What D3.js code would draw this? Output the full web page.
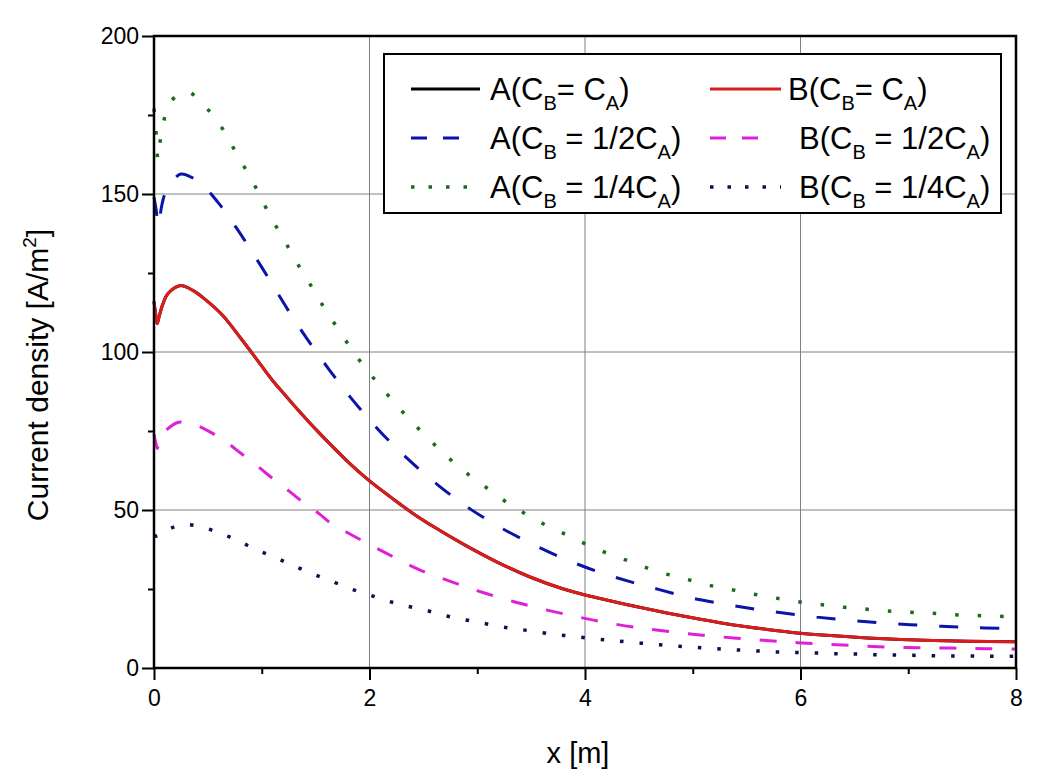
<!DOCTYPE html>
<html>
<head>
<meta charset="utf-8">
<script src="https://cdn.jsdelivr.net/npm/d3@7"></script>
<style>
  html, body { margin: 0; padding: 0; background: #fff; }
  svg { display: block; font-family: Arial, "Liberation Sans", sans-serif; }
</style>
</head>
<body>
<svg id="chart" width="1056" height="784"></svg>
<script>
// ---------------- data ----------------
const xTicks = [0, 2, 4, 6, 8];
const yTicks = [0, 50, 100, 150, 200];
const xMinorTicks = [1, 3, 5, 7];
const yMinorTicks = [25, 75, 125, 175];

// A (C_B = C_A)  -- black, hidden under the red curve in the reference
const aFullX = [0, 0.015, 0.03, 0.05, 0.08, 0.13, 0.24, 0.36, 0.48, 0.64, 0.8, 0.9, 1.0, 1.1, 1.2, 1.3, 1.4, 1.5, 1.63, 1.82, 2.0, 2.2, 2.4, 2.6, 2.87, 3.18, 3.49, 3.8, 4.0, 4.14, 4.45, 4.76, 5.07, 5.38, 5.69, 6.0, 6.31, 6.62, 6.93, 7.24, 7.55, 8.0];
const aFullY = [116, 112, 109, 111.5, 115, 118.5, 121, 119.5, 116.5, 111.5, 104.6, 100.1, 95.5, 91, 87, 83.1, 79.3, 75.6, 71, 64.6, 59.2, 54, 49, 44.6, 39.2, 33.6, 28.8, 25.0, 23.1, 22.0, 19.6, 17.4, 15.4, 13.6, 12.2, 11.0, 10.2, 9.5, 9.0, 8.7, 8.5, 8.3];

// B (C_B = C_A)  -- red
const bFullX = [0, 0.015, 0.03, 0.05, 0.08, 0.13, 0.24, 0.36, 0.48, 0.64, 0.8, 0.9, 1.0, 1.1, 1.2, 1.3, 1.4, 1.5, 1.63, 1.82, 2.0, 2.2, 2.4, 2.6, 2.87, 3.18, 3.49, 3.8, 4.0, 4.14, 4.45, 4.76, 5.07, 5.38, 5.69, 6.0, 6.31, 6.62, 6.93, 7.24, 7.55, 8.0];
const bFullY = [116, 112, 109, 111.5, 115, 118.5, 121, 119.5, 116.5, 111.5, 104.6, 100.1, 95.5, 91, 87, 83.1, 79.3, 75.6, 71, 64.6, 59.2, 54, 49, 44.6, 39.2, 33.6, 28.8, 25.0, 23.1, 22.0, 19.6, 17.4, 15.4, 13.6, 12.2, 11.0, 10.2, 9.5, 9.0, 8.7, 8.5, 8.3];

// A (C_B = 1/2 C_A)  -- blue dashed
const aHalfX = [0, 0.02, 0.04, 0.07, 0.1, 0.165, 0.25, 0.33, 0.46, 0.59, 0.69, 0.79, 0.87, 0.96, 1.06, 1.15, 1.24, 1.34, 1.44, 1.63, 1.82, 2.08, 2.36, 2.65, 2.94, 3.24, 3.53, 3.82, 4.11, 4.41, 4.69, 4.98, 5.28, 5.57, 5.86, 6.15, 6.44, 6.73, 7.02, 7.31, 7.6, 7.9, 8.0];
const aHalfY = [149, 145, 140, 146, 150, 154, 156.3, 155.6, 152.5, 147.5, 143, 138, 133.8, 129, 123.5, 118.5, 113.5, 108.2, 103.2, 94.2, 85.8, 75.5, 66, 57.5, 50.2, 44, 38.9, 34.4, 30.6, 27.4, 24.8, 22.2, 20.3, 18.7, 17.3, 16.1, 15.1, 14.3, 13.7, 13.2, 12.8, 12.5, 12.4];

// B (C_B = 1/2 C_A)  -- magenta dashed
const bHalfX = [0, 0.015, 0.03, 0.05, 0.1, 0.22, 0.3, 0.38, 0.51, 0.67, 0.8, 0.96, 1.1, 1.26, 1.39, 1.54, 1.63, 1.9, 2.19, 2.47, 2.77, 3.06, 3.35, 3.64, 3.93, 4.21, 4.5, 4.79, 5.09, 5.38, 5.68, 5.97, 6.26, 6.55, 6.84, 7.13, 7.41, 7.71, 8.0];
const bHalfY = [74, 71.5, 69.5, 72, 74.8, 77.7, 77.6, 77, 74.9, 71.5, 68.1, 63.9, 60, 55.8, 52.3, 48.6, 46.1, 40.9, 35.7, 31, 27.2, 23.8, 20.9, 18.4, 16.2, 14.3, 12.7, 11.5, 10.4, 9.5, 8.7, 8.0, 7.5, 7.0, 6.6, 6.4, 6.3, 6.1, 6.0];

// A (C_B = 1/4 C_A)  -- green dotted
const aQuarterX = [0, 0.015, 0.025, 0.035, 0.05, 0.09, 0.15, 0.3, 0.47, 0.61, 0.71, 0.81, 0.91, 1.0, 1.09, 1.19, 1.29, 1.39, 1.5, 1.6, 1.72, 1.83, 1.96, 2.1, 2.25, 2.41, 2.58, 2.75, 2.93, 3.1, 3.27, 3.44, 3.62, 3.8, 3.97, 4.14, 4.32, 4.49, 4.66, 4.84, 5.01, 5.19, 5.36, 5.53, 5.71, 5.88, 6.06, 6.23, 6.41, 6.58, 6.76, 6.93, 7.11, 7.28, 7.46, 7.63, 7.8, 8.0];
const aQuarterY = [177, 172, 166, 161, 165, 173, 179, 182.5, 177.8, 172, 166.2, 160.2, 154.3, 148.3, 142.3, 136.5, 130.5, 124.5, 118.7, 112.7, 106.8, 101, 95, 89.2, 83.2, 77.3, 71.5, 66, 60.9, 56.7, 52.5, 48.9, 45.5, 42.6, 39.8, 37.2, 34.9, 32.8, 30.6, 29, 27.5, 25.9, 24.8, 23.6, 22.5, 21.5, 20.6, 19.9, 19.2, 18.7, 18.2, 17.8, 17.5, 17.2, 16.8, 16.6, 16.4, 16.2];

// B (C_B = 1/4 C_A)  -- navy dotted
const bQuarterX = [0, 0.03, 0.1, 0.27, 0.44, 0.62, 0.79, 0.96, 1.13, 1.3, 1.48, 1.66, 1.83, 2.01, 2.18, 2.35, 2.53, 2.7, 2.88, 3.05, 3.23, 3.4, 3.58, 3.75, 3.92, 4.1, 4.26, 4.43, 4.61, 4.78, 4.96, 5.13, 5.31, 5.48, 5.66, 5.83, 6.0, 6.18, 6.35, 6.52, 6.7, 6.87, 7.05, 7.22, 7.39, 7.57, 7.74, 7.92, 8.0];
const bQuarterY = [42, 41.7, 43.3, 45.4, 44.6, 42.6, 40.1, 37.3, 34.9, 32.3, 29.7, 27.3, 25, 23, 21.1, 19.6, 18.2, 16.6, 15.3, 14.2, 13, 12.2, 11.3, 10.5, 9.9, 9.2, 8.7, 8.1, 7.6, 7.1, 6.7, 6.3, 5.9, 5.6, 5.3, 5.0, 4.9, 4.7, 4.5, 4.4, 4.2, 4.1, 4.0, 3.9, 3.8, 3.8, 3.7, 3.7, 3.7];

// ---------------- layout ----------------
const margin = { left: 154, right: 1016, top: 36, bottom: 668 };
const svg = d3.select("#chart");

const x = d3.scaleLinear().domain([0, 8]).range([margin.left, margin.right]);
const y = d3.scaleLinear().domain([0, 200]).range([margin.bottom, margin.top]);

// grid
const grid = svg.append("g").attr("class", "grid");
grid.selectAll("line.gx").data(xTicks.slice(1, -1)).join("line")
  .attr("x1", d => x(d)).attr("x2", d => x(d))
  .attr("y1", margin.top).attr("y2", margin.bottom)
  .attr("stroke", "#808080").attr("stroke-width", 1);
grid.selectAll("line.gy").data(yTicks.slice(1, -1)).join("line")
  .attr("y1", d => y(d)).attr("y2", d => y(d))
  .attr("x1", margin.left).attr("x2", margin.right)
  .attr("stroke", "#808080").attr("stroke-width", 1);

// series styles
const series = [
  { xs: aFullX, ys: aFullY, color: "#000000", width: 3, dash: null, lw: 3, ldash: null },
  { xs: aHalfX, ys: aHalfY, color: "#0a14a8", width: 3, dash: "19,22", lw: 3, ldash: "16,16" },
  { xs: aQuarterX, ys: aQuarterY, color: "#1d6a1d", width: 3.5, dash: "3.5,19", lw: 3.5, ldash: "3.5,14" },
  { xs: bHalfX, ys: bHalfY, color: "#e020d8", width: 3, dash: "17,19", lw: 3, ldash: "16,16" },
  { xs: bQuarterX, ys: bQuarterY, color: "#10104e", width: 3.5, dash: "3.5,16", lw: 3.5, ldash: "3.5,14" },
  { xs: bFullX, ys: bFullY, color: "#dc1c1c", width: 3, dash: null, lw: 3, ldash: null }
];

const line = d3.line().x(d => x(d[0])).y(d => y(d[1])).curve(d3.curveCatmullRom.alpha(0.5));
const plot = svg.append("g").attr("class", "plot");
series.forEach(s => {
  const pts = s.xs.map((v, i) => [v, s.ys[i]]);
  plot.append("path").datum(pts)
    .attr("d", line)
    .attr("fill", "none")
    .attr("stroke", s.color)
    .attr("stroke-width", s.width)
    .attr("stroke-dasharray", s.dash)
    .attr("stroke-linejoin", "round");
});

// axes
const xAxis = d3.axisBottom(x).tickValues(xTicks).tickSize(12).tickPadding(10).tickFormat(d3.format("d"));
const yAxis = d3.axisLeft(y).tickValues(yTicks).tickSize(12).tickPadding(3).tickFormat(d3.format("d"));
const xMinor = d3.axisBottom(x).tickValues(xMinorTicks).tickSize(6).tickFormat("");
const yMinor = d3.axisLeft(y).tickValues(yMinorTicks).tickSize(6).tickFormat("");

function styleAxis(g) {
  g.select(".domain").remove();
  g.selectAll(".tick line").attr("stroke", "#000").attr("stroke-width", 2);
  g.selectAll(".tick text").attr("fill", "#000").style("font-size", "23px")
    .style("font-family", "Arial, 'Liberation Sans', sans-serif");
}
svg.append("g").attr("transform", `translate(0,${margin.bottom})`).call(xAxis).call(styleAxis);
svg.append("g").attr("transform", `translate(0,${margin.bottom})`).call(xMinor).call(styleAxis);
svg.append("g").attr("transform", `translate(${margin.left},0)`).call(yAxis).call(styleAxis);
svg.append("g").attr("transform", `translate(${margin.left},0)`).call(yMinor).call(styleAxis);

// frame
svg.append("rect")
  .attr("x", margin.left).attr("y", margin.top)
  .attr("width", margin.right - margin.left).attr("height", margin.bottom - margin.top)
  .attr("fill", "none").attr("stroke", "#000").attr("stroke-width", 2.5);

// axis titles
svg.append("text")
  .attr("x", 578).attr("y", 763)
  .attr("text-anchor", "middle").style("font-size", "29px").attr("fill", "#000")
  .text("x [m]");

const yt = svg.append("text")
  .attr("transform", `translate(48,375) rotate(-90)`)
  .attr("text-anchor", "middle").style("font-size", "30px").attr("fill", "#000");
yt.append("tspan").text("Current density [A/m");
yt.append("tspan").attr("dy", -12).style("font-size", "19px").text("2");
yt.append("tspan").attr("dy", 12).text("]");

// legend
const legend = svg.append("g").attr("class", "legend");
legend.append("rect")
  .attr("x", 384).attr("y", 54).attr("width", 617).attr("height", 159)
  .attr("fill", "#fff").attr("stroke", "#000").attr("stroke-width", 2);

const legendRows = [89, 138, 187];
const legendItems = [
  { s: 0, col: 0, row: 0, pre: "A(C", mid: "= C", post: ")" },
  { s: 5, col: 1, row: 0, pre: "B(C", mid: "= C", post: ")" },
  { s: 1, col: 0, row: 1, pre: "A(C", mid: " = 1/2C", post: ")" },
  { s: 3, col: 1, row: 1, pre: "B(C", mid: " = 1/2C", post: ")" },
  { s: 2, col: 0, row: 2, pre: "A(C", mid: " = 1/4C", post: ")" },
  { s: 4, col: 1, row: 2, pre: "B(C", mid: " = 1/4C", post: ")" }
];
const colSym = [[411, 480], [710, 781]];
const colText = [[490, 490, 490], [788, 799, 799]];

legendItems.forEach(it => {
  const s = series[it.s];
  const ly = legendRows[it.row];
  const [x1, x2] = colSym[it.col];
  const isDash = s.ldash && s.ldash.startsWith("16");
  legend.append("line")
    .attr("x1", x1).attr("x2", isDash ? x1 + 50 : x2)
    .attr("y1", ly).attr("y2", ly)
    .attr("stroke", s.color).attr("stroke-width", s.lw)
    .attr("stroke-dasharray", s.ldash);
  const t = legend.append("text")
    .attr("x", colText[it.col][it.row]).attr("y", ly + 11)
    .style("font-size", "31px").attr("fill", "#000");
  t.append("tspan").text(it.pre);
  t.append("tspan").attr("dy", 10).style("font-size", "20px").text("B");
  t.append("tspan").attr("dy", -10).text(it.mid);
  t.append("tspan").attr("dy", 10).style("font-size", "20px").text("A");
  t.append("tspan").attr("dy", -10).text(it.post);
});
</script>
</body>
</html>
